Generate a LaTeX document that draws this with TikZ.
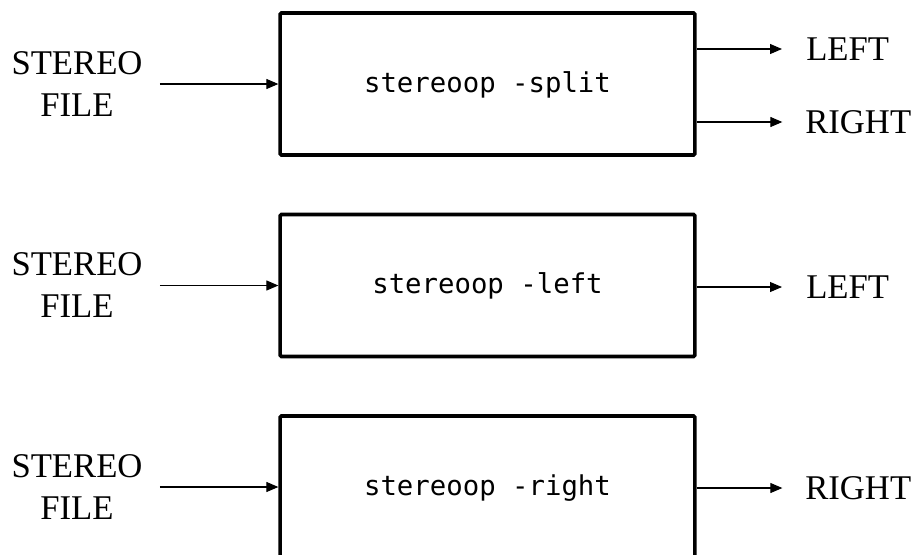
\documentclass[tikz,border=0pt]{standalone}
\usepackage{fontspec}
\setmainfont{Liberation Serif}
\setmonofont{DejaVu Sans Mono}
\usetikzlibrary{arrows.meta}

\begin{document}
\begin{tikzpicture}[x=0.75pt,y=-0.75pt,>={Triangle[length=9pt,width=7.5pt]},
    proc/.style={draw,line width=2.7pt,rounded corners=1pt,inner sep=0pt,
      minimum width=311pt,minimum height=106.5pt,text height=12pt,text depth=0pt,
      font=\ttfamily\fontsize{20.5}{24}\selectfont},
    lab/.style={inner sep=0pt,align=center,
      font=\fontsize{26}{31.5}\selectfont},
    flow/.style={->,line width=0.8pt}]
    \clip (0,0) rectangle (916,554);
    % the three calls
    \node[proc] (split) at (487.5,84) {stereoop -split};
    \node[proc] (left) at (487.5,285.5) {stereoop -left};
    \node[proc] (right) at (487.5,487) {stereoop -right};
    % inputs
    \node[lab] (in1) at (77,84) {STEREO\\FILE};
    \node[lab] (in2) at (77,285.5) {STEREO\\FILE};
    \node[lab] (in3) at (77,487) {STEREO\\FILE};
    % outputs
    \node[lab,anchor=west] (out1l) at (806,49) {LEFT};
    \node[lab,anchor=west] (out1r) at (805,122) {RIGHT};
    \node[lab,anchor=west] (out2) at (806,287) {LEFT};
    \node[lab,anchor=west] (out3) at (805,488) {RIGHT};
    \draw[flow,shorten <=12.75pt] (in1) -- (split);
    \draw[flow,shorten <=12.75pt] (in2) -- (left);
    \draw[flow,shorten <=12.75pt] (in3) -- (right);
    \draw[flow,shorten >=18pt] (split.east |- out1l) -- (out1l.west);
    \draw[flow,shorten >=17pt] (split.east |- out1r) -- (out1r.west);
    \draw[flow,shorten >=18pt] (left.east |- out2) -- (out2.west);
    \draw[flow,shorten >=17pt] (right.east |- out3) -- (out3.west);
  \end{tikzpicture}
\end{document}
